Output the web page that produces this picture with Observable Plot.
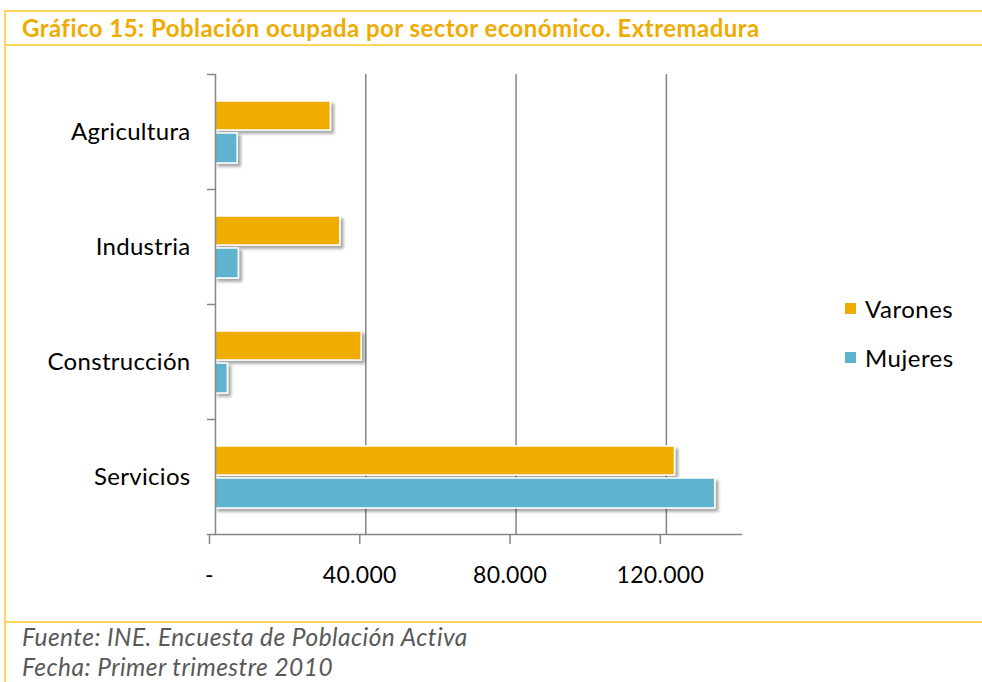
<!DOCTYPE html>
<html>
<head>
<meta charset="utf-8">
<script src="https://cdn.jsdelivr.net/npm/d3@7"></script>
<script src="https://cdn.jsdelivr.net/npm/@observablehq/plot@0.6"></script>
<style>
  html, body { margin: 0; padding: 0; background: #fff; }
  #wrap { position: relative; width: 982px; height: 682px; overflow: hidden; font-family: Lato, "Open Sans", sans-serif; }
  .hline { position: absolute; left: 5px; right: 0; background: #FFD45C; }
  .vline { position: absolute; left: 4px; top: 10px; bottom: 0; width: 1.5px; background: #FFD45C; }
  #title { position: absolute; left: 22px; top: 12px; font-weight: bold; font-size: 24px; letter-spacing: 0.45px; color: #F0AB00; white-space: nowrap; line-height: 32px; }
  #chart { position: absolute; left: 0; top: 0; }
  #legend { position: absolute; left: 845px; top: 292px; font-size: 24px; letter-spacing: 0.5px; color: #000; }
  .li { display: flex; align-items: center; height: 32px; margin-bottom: 17px; }
  .sw { width: 11px; height: 11px; margin-right: 9px; }
  #footer { position: absolute; left: 22px; top: 622px; font-style: italic; font-size: 24.5px; letter-spacing: 0.45px; color: #595959; line-height: 30px; white-space: nowrap; }
  #chart text { letter-spacing: 0.3px; }
</style>
</head>
<body>
<div id="wrap">
  <div class="hline" style="top:10px;height:2px"></div>
  <div class="hline" style="top:44px;height:1.5px"></div>
  <div class="hline" style="top:621px;height:1.5px"></div>
  <div class="vline"></div>
  <div id="title"></div>
  <div id="chart"></div>
  <div id="legend"></div>
  <div id="footer"></div>
</div>
<script>
const titulo = "Gráfico 15: Población ocupada por sector económico. Extremadura";
const fuente = ["Fuente: INE. Encuesta de Población Activa", "Fecha: Primer trimestre 2010"];
const sectores = ["Agricultura", "Industria", "Construcción", "Servicios"];
const series = ["Varones", "Mujeres"];
const colores = ["#F0AC00", "#5FB3CE"];
const varones = [30700, 33200, 38900, 122300];
const mujeres = [5900, 6200, 3300, 133000];
const xTicks = [0, 40000, 80000, 120000];

const data = [];
sectores.forEach((s, i) => {
  data.push({sector: s, serie: series[0], valor: varones[i]});
  data.push({sector: s, serie: series[1], valor: mujeres[i]});
});

document.getElementById("title").textContent = titulo;
document.getElementById("footer").innerHTML = fuente.map(t => `<div>${t}</div>`).join("");
document.getElementById("legend").innerHTML = series.map((s, i) =>
  `<div class="li"><div class="sw" style="background:${colores[i]}"></div><span>${s}</span></div>`).join("");

const fmt = d => d === 0 ? "-" : d3.format(",")(d).replace(/,/g, ".");
const band = 115;
const grey = "#868686";

const chart = Plot.plot({
  width: 982,
  height: 600,
  marginTop: 74,
  marginBottom: 66,
  marginLeft: 215,
  marginRight: 241,
  style: {fontFamily: "Lato, 'Open Sans', sans-serif", fontSize: "23px", color: "#000", background: "transparent"},
  x: {domain: [0, 140000], label: null},
  y: {domain: sectores, padding: 0, label: null},
  color: {domain: series, range: colores},
  marks: [
    Plot.ruleX(xTicks.slice(1), {stroke: grey, strokeWidth: 1.5, strokeOpacity: 1}),
    Plot.barX(data.filter(d => d.serie === series[0]), {
      x: "valor", y: "sector", fill: "serie", stroke: "#fff", strokeWidth: 1.5,
      insetTop: 27, insetBottom: band - 27 - 29
    }),
    Plot.barX(data.filter(d => d.serie === series[1]), {
      x: "valor", y: "sector", fill: "serie", stroke: "#fff", strokeWidth: 1.5,
      insetTop: 59, insetBottom: band - 59 - 30
    }),
    Plot.frame({anchor: "left", stroke: grey, strokeWidth: 1.5, strokeOpacity: 1}),
    Plot.frame({anchor: "bottom", stroke: grey, strokeWidth: 1.5, strokeOpacity: 1, insetLeft: -8}),
    Plot.axisY({tickSize: 8, tickFormat: () => "", label: null, dy: -band / 2, stroke: grey, strokeWidth: 1.5, strokeOpacity: 1}),
    Plot.axisY({tickSize: 0, tickPadding: 25, label: null, fill: "#000", fontSize: 24}),
    Plot.axisX({ticks: xTicks, tickFormat: fmt, label: null, tickSize: 10, tickPadding: 22, dx: -6, stroke: grey, strokeWidth: 1.5, strokeOpacity: 1, fill: "#000", fontSize: 23})
  ]
});

// drop shadow for bars
const ns = "http://www.w3.org/2000/svg";
const defs = document.createElementNS(ns, "defs");
defs.innerHTML = `<filter id="sh" x="-5%" y="-20%" width="115%" height="160%">
  <feDropShadow dx="3" dy="3" stdDeviation="1.8" flood-color="#000" flood-opacity="0.35"/></filter>`;
chart.insertBefore(defs, chart.firstChild);
chart.querySelectorAll('g[aria-label="bar"]').forEach(g => g.setAttribute("filter", "url(#sh)"));

document.getElementById("chart").appendChild(chart);
</script>
</body>
</html>
